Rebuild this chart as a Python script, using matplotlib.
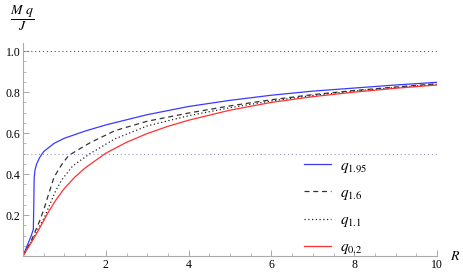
import matplotlib
matplotlib.use("Agg")
import matplotlib.pyplot as plt
from matplotlib.ticker import MultipleLocator, FixedLocator, FormatStrFormatter

plt.rcParams["font.family"] = ["Liberation Serif", "DejaVu Serif"]
plt.rcParams["mathtext.fontset"] = "stix"

# values
R_BLUE = [0, 0.1, 0.2, 0.25, 0.26, 0.27, 0.29, 0.33, 0.4, 0.5, 0.75, 1.0, 1.5, 2.0,
          2.5, 3, 4, 5, 6, 7, 8, 9, 10]
Q_BLUE = [0, 0.05, 0.10, 0.13, 0.25, 0.38, 0.42, 0.45, 0.48, 0.51, 0.55, 0.575, 0.61,
          0.64, 0.665, 0.69, 0.73, 0.76, 0.785, 0.805, 0.82, 0.835, 0.848]

R_DASH = [0, 0.2, 0.4, 0.5, 0.6, 0.75, 0.93, 1.1, 1.3, 1.62, 2.22, 3, 4, 4.4, 5, 6, 7,
          8, 9, 10]
Q_DASH = [0, 0.075, 0.17, 0.225, 0.29, 0.385, 0.445, 0.49, 0.515, 0.553, 0.612, 0.658,
          0.698, 0.712, 0.733, 0.763, 0.788, 0.808, 0.825, 0.841]

R_DOT = [0, 0.2, 0.4, 0.52, 0.77, 0.93, 1.2, 1.62, 2.22, 3, 4, 5, 6, 7, 8, 9, 10]
Q_DOT = [0, 0.07, 0.145, 0.19, 0.31, 0.37, 0.44, 0.50, 0.572, 0.635, 0.685, 0.724,
         0.757, 0.784, 0.805, 0.823, 0.838]

R_RED = [0, 0.2, 0.4, 0.6, 0.8, 1.0, 1.25, 1.5, 2.0, 2.5, 3, 3.5, 4, 5, 6, 7, 8, 9, 10]
Q_RED = [0, 0.065, 0.135, 0.21, 0.275, 0.33, 0.385, 0.43, 0.502, 0.555, 0.598, 0.633,
         0.663, 0.712, 0.75, 0.778, 0.8, 0.819, 0.835]

LABELS = [r"$q_{\mathit{1.95}}$", r"$q_{\mathit{1.6}}$", r"$q_{\mathit{1.1}}$",
          r"$q_{\mathit{0.2}}$"]
X_TICKS = [2, 4, 6, 8, 10]
Y_TICKS = [0.2, 0.4, 0.6, 0.8, 1.0]

fig = plt.figure(figsize=(4.63, 2.73), dpi=100)
ax = fig.add_axes([23 / 463, 17 / 273, 414 / 463, 213 / 273])

ax.plot(R_BLUE, Q_BLUE, color="#3a3aff", lw=0.9, label=LABELS[0])
ax.plot(R_DASH, Q_DASH, color="#333333", lw=0.9, dashes=(4, 3), label=LABELS[1])
ax.plot(R_DOT, Q_DOT, color="#222222", lw=0.9, dashes=(1, 2), label=LABELS[2])
ax.plot(R_RED, Q_RED, color="#ff3030", lw=0.9, label=LABELS[3])

ax.plot([0, 10], [1.0, 1.0], color="#555555", lw=0.8, dashes=(1, 2.5))
ax.plot([0, 10], [0.5, 0.5], color="#9999cc", lw=0.8, dashes=(1, 2.5))

ax.set_xlim(0, 10)
ax.set_ylim(0, 1.04)
for s in ("top", "right"):
    ax.spines[s].set_visible(False)
for s in ("left", "bottom"):
    ax.spines[s].set_color("#aaaaaa")
    ax.spines[s].set_linewidth(0.8)

ax.xaxis.set_major_locator(FixedLocator(X_TICKS))
ax.xaxis.set_minor_locator(MultipleLocator(0.5))
ax.yaxis.set_major_locator(FixedLocator(Y_TICKS))
ax.yaxis.set_minor_locator(MultipleLocator(0.05))
ax.yaxis.set_major_formatter(FormatStrFormatter("%.1f"))
ax.tick_params(which="both", direction="in", color="#999999", labelsize=8.5, pad=2)
ax.tick_params(which="major", length=4, width=0.6)
ax.tick_params(which="minor", length=2.5, width=0.5)

leg = ax.legend(loc="lower left", bbox_to_anchor=(0.645, -0.065), frameon=False,
                fontsize=11, handlelength=1.8, labelspacing=0.75, handletextpad=0.6)

ax.text(1.045, 0.0, "$R$", transform=ax.transAxes, fontsize=10, ha="center",
        va="center")
ax.text(-0.002, 1.115, r"$\dfrac{M\ q}{J}$", transform=ax.transAxes, fontsize=10,
        ha="center", va="center")

fig.savefig("out.png", dpi=100)
